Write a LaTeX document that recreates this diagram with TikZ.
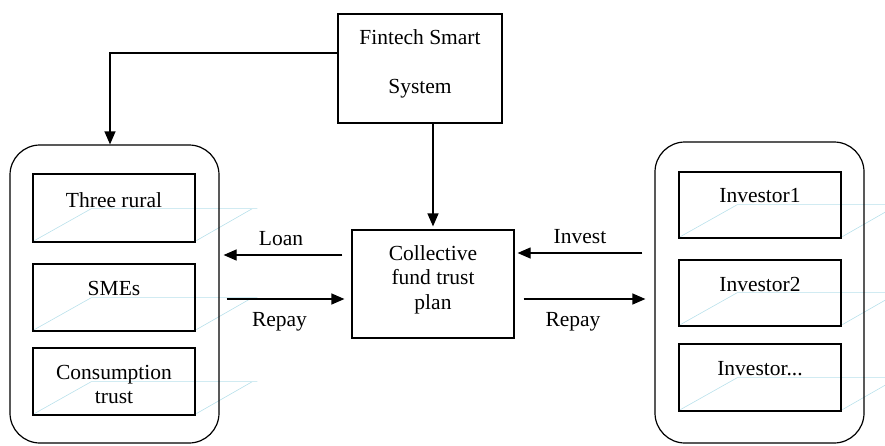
\documentclass[tikz,border=0pt]{standalone}
\usepackage{fontspec}
\setmainfont{Liberation Serif}
\usetikzlibrary{arrows.meta,calc,backgrounds}
\definecolor{ghostblue}{RGB}{185,225,235}
\begin{document}
\begin{tikzpicture}[x=1pt,y=-1pt,
  every node/.style={font=\fontsize{21.5}{24.5}\selectfont},
  box/.style={draw, line width=1.2pt, inner sep=0pt},
  itembox/.style={box, minimum width=162pt, minimum height=67pt, text height=15pt},
  group/.style={draw, line width=1.2pt, rounded corners=30pt, inner sep=0pt},
  arr/.style={line width=1.2pt, -{Triangle[length=13pt,width=11pt]}},
  ghost/.style={draw=ghostblue, line width=0.6pt},
  lbl/.style={midway, anchor=base}
]
\useasboundingbox (0,0) rectangle (885,445);

% top system box and the central plan (an empty last line lifts the text a little)
\node[box, minimum width=164pt, minimum height=109pt, align=center] (fin) at (420,68.5) {Fintech Smart\\[25pt]System\\[-10.8pt]\mbox{}};
\node[box, minimum width=162pt, minimum height=108pt, align=center] (coll) at (433,284) {Collective\\fund trust\\plan\\[-10.8pt]\mbox{}};

% left group: borrowers
\node[group, minimum width=209pt, minimum height=298pt] (L) at (114.5,294) {};
\node[itembox, minimum height=68pt, text depth=17pt] (a1) at (114,208) {Three rural};
\node[itembox, text depth=20pt] (a2) at (114,297.5) {SMEs};
\node[box, minimum width=162pt, minimum height=67pt, align=center] (a3) at (114,381.5) {\mbox{}\\[-4pt]Consumption\\trust};

% right group: investors
\node[group, minimum width=209pt, minimum height=301pt] (R) at (759.5,292.5) {};
\node[itembox, minimum height=66pt, text depth=19.6pt] (b1) at (760,205) {Investor1};
\node[itembox, minimum height=66pt, text depth=19pt] (b2) at (760,293) {Investor2};
\node[itembox, text depth=20pt] (b3) at (760,377.5) {Investor...};

% faint slanted frames behind the item boxes
\begin{scope}[on background layer]
\foreach \b in {a1,a2,a3,b1,b2,b3}
  \draw[ghost] ($(\b.south west)+(2,-2)$) -- ($(\b.south west)+(59,-34)$)
    -- ($(\b.south west)+(225,-34)$)
    ($(\b.south west)+(220,-34)$) -- ($(\b.south west)+(164,-2)$);
\end{scope}

% control flows from the system
\draw[arr] ($(fin.north west)!0.36!(fin.south west)$) -| ([xshift=-4.5pt]L.north);
\draw[arr] (fin.south -| coll.north) -- ([yshift=3pt]coll.north);

% money flows
\coordinate (loanS) at ([xshift=-9pt,yshift=29pt]coll.west);
\coordinate (repL)  at ([xshift=-7pt,yshift=-15pt]coll.west);
\coordinate (invE)  at ([xshift=3pt,yshift=31pt]coll.east);
\coordinate (repR)  at ([xshift=9pt,yshift=-15pt]coll.east);

\draw[arr, shorten >=4pt] (loanS) -- (loanS -| L.east)
  node[lbl, yshift=10pt] {Loan};
\draw[arr, shorten <=7pt] (repL -| L.east) -- (repL)
  node[lbl, yshift=-27pt, xshift=-2.5pt] {Repay};
\draw[arr, shorten <=12pt] (invE -| R.west) -- (invE)
  node[lbl, yshift=10pt, xshift=-6pt] {Invest};
\draw[arr, shorten >=9pt] (repR) -- (repR -| R.west)
  node[lbl, yshift=-27pt, xshift=-16pt] {Repay};
\end{tikzpicture}
\end{document}
